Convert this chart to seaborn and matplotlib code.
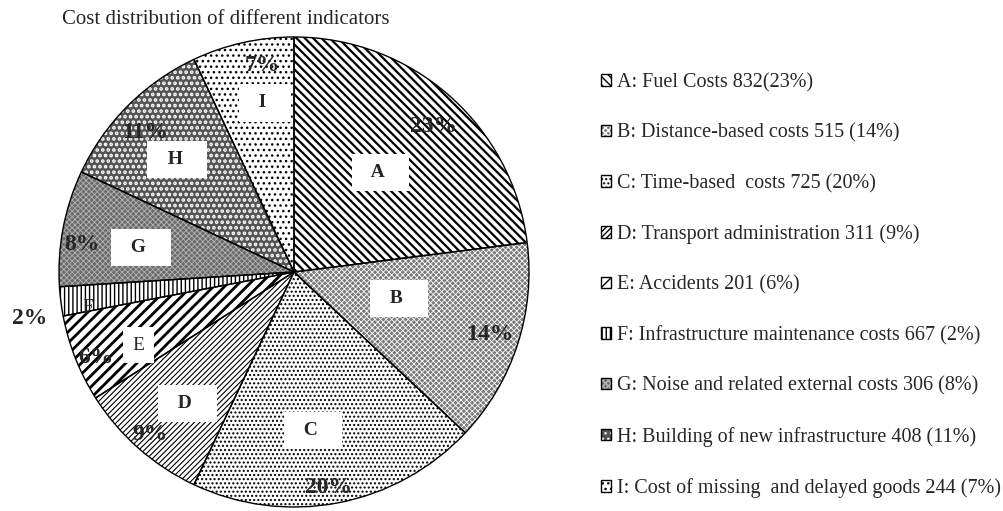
import matplotlib
matplotlib.use("Agg")
import matplotlib.pyplot as plt
from matplotlib.patches import Patch
import numpy as np
import seaborn as sns

# data
LETTERS = ["A", "B", "C", "D", "E", "F", "G", "H", "I"]
NAMES = ["Fuel Costs", "Distance-based costs", "Time-based  costs", "Transport administration",
         "Accidents", "Infrastructure maintenance costs", "Noise and related external costs",
         "Building of new infrastructure", "Cost of missing  and delayed goods"]
COSTS = [832, 515, 725, 311, 201, 667, 306, 408, 244]
SHARES = [23, 14, 20, 9, 6, 2, 8, 11, 7]
TITLE = "Cost distribution of different indicators"

# styling per wedge: face, hatch, hatch colour, hatch line width
FACES = ["white", "#7a7a7a", "white", "white", "white", "white", "#6a6a6a", "#545454", "white"]
HATCHES = ["\\\\\\\\", "xxxxxx", "....", "//////", "///", "||||", "xxxxxx", "...", "..."]
HATCH_COLORS = ["black", "white", "black", "black", "black", "black", "#b4b4b4", "white", "black"]
HATCH_LW = [1.6, 0.6, 1.0, 0.8, 2.0, 1.0, 0.6, 1.8, 1.0]

# label placement relative to each wedge: (radius fraction, angle offset in deg)
BOX_R = [0.56, 0.46, 0.68, 0.72, 0.73, 0.89, 0.66, 0.69, 0.73]
BOX_OFF = [0.4, 4.0, -4.0, 2.4, 3.6, 2.7, 1.6, 1.0, -2.9]
PCT_R = [0.855, 0.875, 0.93, 0.925, 0.92, 1.14, 0.91, 0.87, 0.89]
PCT_OFF = [-2.4, 0.2, -1.8, -0.1, 1.8, 2.7, 3.5, 1.8, -3.8]


def main():
    sns.set_theme(style="white")
    plt.rcParams["font.family"] = ["Liberation Serif", "DejaVu Serif"]
    plt.rcParams["hatch.linewidth"] = 1.0

    fig = plt.figure(figsize=(10.04, 5.11), dpi=100)
    ax = fig.add_axes([59 / 1004, 4 / 511, 470 / 1004, 470 / 511])

    # filled + hatched wedges
    wedges, _ = ax.pie(SHARES, startangle=90, counterclock=False, colors=FACES,
                       wedgeprops=dict(linewidth=0))
    for w, h, hc, lw in zip(wedges, HATCHES, HATCH_COLORS, HATCH_LW):
        w.set_hatch(h)
        w.set_edgecolor(hc)
        if hasattr(w, "set_hatch_linewidth"):
            w.set_hatch_linewidth(lw)
    # black outlines on top
    ax.pie(SHARES, startangle=90, counterclock=False,
           wedgeprops=dict(fill=False, edgecolor="black", linewidth=1.0))

    ax.set_xlim(-1, 1)
    ax.set_ylim(-1, 1)
    ax.set_aspect("equal")
    ax.set_position([59 / 1004, 4 / 511, 470 / 1004, 470 / 511])
    ax.axis("off")

    for i, w in enumerate(wedges):
        mid = 0.5 * (w.theta1 + w.theta2)
        a = np.deg2rad(mid + BOX_OFF[i])
        bx, by = BOX_R[i] * np.cos(a), BOX_R[i] * np.sin(a)
        letter = LETTERS[i]
        if letter == "F":
            ax.text(bx, by, letter, ha="center", va="center", fontsize=14)
        elif letter == "E":
            ax.text(bx, by, f"{letter}", ha="center", va="center", fontsize=14,
                    bbox=dict(boxstyle="square,pad=0.5", fc="white", ec="none"))
        else:
            ax.text(bx, by, f"  {letter}   ", ha="center", va="center", fontsize=14,
                    fontweight="bold",
                    bbox=dict(boxstyle="square,pad=0.52", fc="white", ec="none"))
        a = np.deg2rad(mid + PCT_OFF[i])
        px, py = PCT_R[i] * np.cos(a), PCT_R[i] * np.sin(a)
        ax.text(px, py, f"{SHARES[i]}%", ha="center", va="center", fontsize=17,
                fontweight="bold")

    handles = []
    labels = []
    for i in range(len(LETTERS)):
        fill = Patch(facecolor=FACES[i], hatch=HATCHES[i], edgecolor=HATCH_COLORS[i], linewidth=0)
        outline = Patch(fill=False, edgecolor="black", linewidth=1.0)
        handles.append((fill, outline))
        sep = "" if i == 0 else " "
        labels.append(f"{LETTERS[i]}: {NAMES[i]} {COSTS[i]}{sep}({SHARES[i]}%)")

    fig.legend(handles, labels, loc="upper left", bbox_to_anchor=(601 / 1004, 1 - 73 / 511),
               frameon=False, fontsize=14.5, handlelength=0.5, handleheight=0.5,
               handletextpad=0.3, labelspacing=1.55, borderaxespad=0, borderpad=0)

    fig.text(62 / 1004, 1 - 19 / 511, TITLE, fontsize=15, va="center", ha="left")

    fig.savefig("out.png", dpi=100)
    plt.close(fig)


if __name__ == "__main__":
    main()
